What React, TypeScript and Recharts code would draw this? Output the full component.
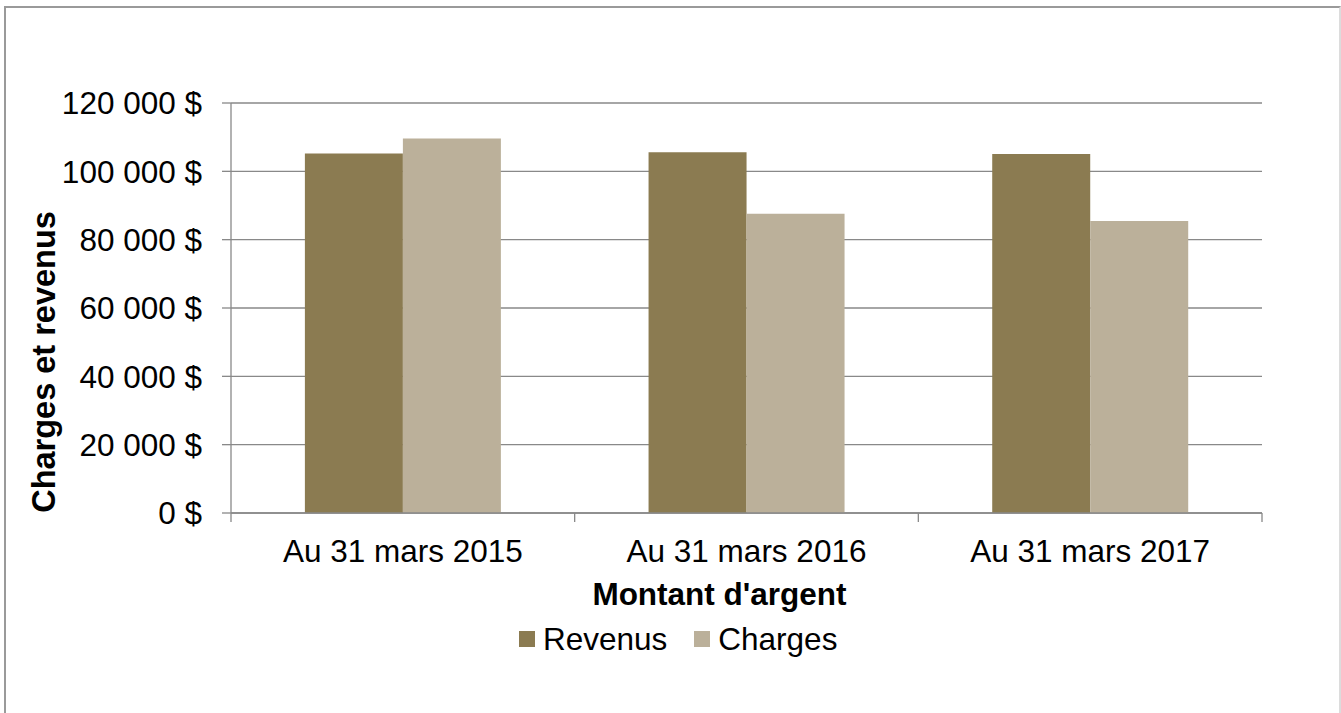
import { BarChart, Bar, XAxis, YAxis, CartesianGrid, Legend, Label } from "recharts";

const categories = ["Au 31 mars 2015", "Au 31 mars 2016", "Au 31 mars 2017"];
const revenus = [105200, 105600, 105100];
const charges = [109600, 87600, 85500];
const yTicks = [0, 20000, 40000, 60000, 80000, 100000, 120000];

const REV_COLOR = "#8b7b51";
const CHG_COLOR = "#bbb09a";
const GRID = "#898989";
const FONT = "'Liberation Sans', Arial, sans-serif";
const FS = 31.5;

const data = categories.map((cat, i) => ({ cat, Revenus: revenus[i], Charges: charges[i] }));

const money = (v: number) => String(v).replace(/\B(?=(\d{3})+(?!\d))/g, " ") + " $";

// category label + tick marks on the band edges (Excel style)
// eslint-disable-next-line @typescript-eslint/no-explicit-any
function CatTick(props: any) {
  const { x, y, payload, index, visibleTicksCount, width } = props;
  const half = payload?.offset || width / visibleTicksCount / 2;
  const y1 = y - 27;
  const y2 = y - 18;
  return (
    <g>
      <line x1={x - half} x2={x - half} y1={y1} y2={y2} stroke={GRID} strokeWidth={1.3} />
      {index === visibleTicksCount - 1 && (
        <line x1={x + half} x2={x + half} y1={y1} y2={y2} stroke={GRID} strokeWidth={1.3} />
      )}
      <text x={x} y={y} dy="0.71em" textAnchor="middle" style={{ fill: "#000", fontSize: FS, fontFamily: FONT }}>
        {payload.value}
      </text>
    </g>
  );
}

function LegendBox() {
  const items = [
    { name: "Revenus", color: REV_COLOR },
    { name: "Charges", color: CHG_COLOR },
  ];
  return (
    <div style={{ display: "flex", alignItems: "center", fontFamily: FONT, fontSize: FS, lineHeight: "36px", color: "#000" }}>
      {items.map((it, i) => (
        <span key={it.name} style={{ display: "flex", alignItems: "center", marginRight: i === 0 ? 27 : 0 }}>
          <span style={{ width: 16, height: 16, background: it.color, marginRight: 8, display: "inline-block" }} />
          {it.name}
        </span>
      ))}
    </div>
  );
}

export default function App() {
  return (
    <div style={{ position: "absolute", left: 0, top: 0, width: 1341, height: 713, overflow: "hidden", background: "#fff" }}>
      <div
        style={{
          position: "absolute",
          left: 4,
          top: 6,
          width: 1337,
          height: 740,
          boxSizing: "border-box",
          border: "2px solid #9a9a9a",
          borderRightColor: "#dcdcdc",
        }}
      />
      <BarChart
        width={1341}
        height={713}
        data={data}
        margin={{ top: 103, right: 79, left: 0, bottom: 103 }}
        barCategoryGap="21.5%"
        barGap={0}
        style={{ fontFamily: FONT }}
      >
        <CartesianGrid vertical={false} stroke={GRID} strokeWidth={1.3} />
        <XAxis
          dataKey="cat"
          stroke={GRID}
          strokeWidth={1.3}
          tickLine={false}
          tickSize={9}
          tickMargin={18}
          height={97}
          tick={<CatTick />}
        >
          <Label
            value="Montant d'argent"
            position="insideBottom"
            offset={5}
            dx={-27}
            style={{ fill: "#000", fontSize: FS, fontWeight: "bold", fontFamily: FONT }}
          />
        </XAxis>
        <YAxis
          width={231}
          domain={[0, 120000]}
          ticks={yTicks}
          tickFormatter={money}
          tickSize={9}
          tickMargin={20}
          stroke={GRID}
          strokeWidth={1.3}
          tick={{ fill: "#000", fontSize: FS, fontFamily: FONT }}
        >
          <Label
            content={() => (
              <text
                x={44}
                y={362}
                transform="rotate(-90 44 362)"
                textAnchor="middle"
                dominantBaseline="central"
                style={{ fill: "#000", fontSize: 32.5, fontWeight: "bold", fontFamily: FONT }}
              >
                Charges et revenus
              </text>
            )}
          />
        </YAxis>
        <Legend
          layout="horizontal"
          verticalAlign="middle"
          align="center"
          content={<LegendBox />}
          wrapperStyle={{ top: 621, left: 519, width: "auto" }}
        />
        <Bar dataKey="Revenus" fill={REV_COLOR} isAnimationActive={false} />
        <Bar dataKey="Charges" fill={CHG_COLOR} isAnimationActive={false} />
      </BarChart>
    </div>
  );
}
